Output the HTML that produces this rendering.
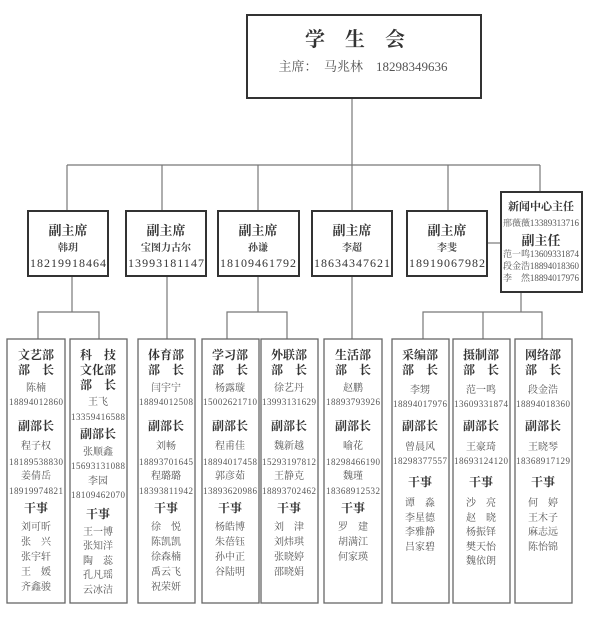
<!DOCTYPE html>
<html><head><meta charset="utf-8"><style>
html,body{margin:0;padding:0;background:#fff}
svg{display:block}
text{font-family:"Liberation Serif","Noto Serif CJK SC",serif;text-anchor:middle;fill:#555}
.b{font-weight:bold;fill:#333;font-size:12px}
.n{font-size:10px}
.p{font-size:9px}
</style></head><body>
<svg width="600" height="629" viewBox="0 0 600 629" xmlns="http://www.w3.org/2000/svg">
<g stroke="#777" stroke-width="1.2" fill="none">
<line x1="352" y1="98" x2="352" y2="165"/>
<line x1="67" y1="165" x2="540" y2="165"/>
<line x1="67" y1="165" x2="67" y2="211"/><line x1="162" y1="165" x2="162" y2="211"/>
<line x1="258" y1="165" x2="258" y2="211"/><line x1="352" y1="165" x2="352" y2="211"/>
<line x1="448" y1="165" x2="448" y2="211"/><line x1="540" y1="165" x2="540" y2="192"/>
<line x1="487" y1="243" x2="501" y2="243"/>
<line x1="72" y1="276" x2="72" y2="312"/><polyline points="38,339 38,312 99,312 99,339"/>
<line x1="167" y1="276" x2="167" y2="339"/>
<line x1="258" y1="276" x2="258" y2="312"/><polyline points="227,339 227,312 287,312 287,339"/>
<line x1="352" y1="276" x2="352" y2="339"/>
<line x1="521" y1="292" x2="521" y2="312"/><polyline points="423,339 423,312 542,312 542,339"/><line x1="483" y1="312" x2="483" y2="339"/>
</g>
<g stroke="#333" stroke-width="2" fill="#fff">
<rect x="247" y="15" width="234" height="83"/>
<rect x="28" y="211" width="80" height="65"/><rect x="126" y="211" width="80" height="65"/>
<rect x="218" y="211" width="81" height="65"/><rect x="312" y="211" width="80" height="65"/>
<rect x="407" y="211" width="80" height="65"/><rect x="501" y="192" width="81" height="100"/>
</g>
<g stroke="#666" stroke-width="1.3" fill="#fff">
<rect x="7" y="339" width="58" height="264"/><rect x="70" y="339" width="57" height="264"/>
<rect x="138" y="339" width="57" height="264"/><rect x="202" y="339" width="57" height="264"/>
<rect x="261" y="339" width="57" height="264"/><rect x="324" y="339" width="58" height="264"/>
<rect x="392" y="339" width="57" height="264"/><rect x="453" y="339" width="57" height="264"/>
<rect x="515" y="339" width="57" height="264"/>
</g>
<text x="355" y="46" class="b" style="font-size:20px">学　生　会</text>
<text x="363" y="71" style="font-size:13px">主席：　马兆林　18298349636</text>

<text x="68" y="235" class="b" style="font-size:13px">副主席</text><text x="68" y="251" class="n" style="font-weight:bold;fill:#444">韩玥</text><text x="68" y="267" style="font-size:12px;fill:#333" textLength="76">18219918464</text>
<text x="166" y="235" class="b" style="font-size:13px">副主席</text><text x="166" y="251" class="n" style="font-weight:bold;fill:#444">宝图力古尔</text><text x="166" y="267" style="font-size:12px;fill:#333" textLength="76">13993181147</text>
<text x="258" y="235" class="b" style="font-size:13px">副主席</text><text x="258" y="251" class="n" style="font-weight:bold;fill:#444">孙谦</text><text x="258" y="267" style="font-size:12px;fill:#333" textLength="76">18109461792</text>
<text x="352" y="235" class="b" style="font-size:13px">副主席</text><text x="352" y="251" class="n" style="font-weight:bold;fill:#444">李超</text><text x="352" y="267" style="font-size:12px;fill:#333" textLength="76">18634347621</text>
<text x="447" y="235" class="b" style="font-size:13px">副主席</text><text x="447" y="251" class="n" style="font-weight:bold;fill:#444">李斐</text><text x="447" y="267" style="font-size:12px;fill:#333" textLength="76">18919067982</text>
<text x="541" y="210" class="b" style="font-size:11px">新闻中心主任</text>
<text x="541" y="226" class="p" textLength="76">邢薇薇13389313716</text>
<text x="541" y="245" class="b" style="font-size:13px">副主任</text>
<text x="541" y="257" class="p" textLength="76">范一鸣13609331874</text>
<text x="541" y="269" class="p" textLength="76">段金浩18894018360</text>
<text x="541" y="281" class="p" textLength="76">李　然18894017976</text>

<g transform="translate(36,0)">
<text y="359" class="b">文艺部</text><text y="374" class="b">部　长</text><text y="391" class="n">陈楠</text><text y="405" class="p" textLength="54">18894012860</text>
<text y="430" class="b">副部长</text><text y="449" class="n">程子权</text><text y="465" class="p" textLength="54">18189538830</text><text y="479" class="n">姜倩岳</text><text y="494" class="p" textLength="54">18919974821</text>
<text y="512" class="b">干事</text><text y="530" class="n">刘可昕</text><text y="545" class="n">张　兴</text><text y="560" class="n">张宇轩</text><text y="575" class="n">王　媛</text><text y="590" class="n">齐鑫骏</text></g>
<g transform="translate(98,0)">
<text y="359" class="b">科　技</text><text y="374" class="b">文化部</text><text y="389" class="b">部　长</text><text y="405" class="n">王飞</text><text y="420" class="p" textLength="54">13359416588</text>
<text y="438" class="b">副部长</text><text y="455" class="n">张顺鑫</text><text y="469" class="p" textLength="54">15693131088</text><text y="484" class="n">李园</text><text y="498" class="p" textLength="54">18109462070</text>
<text y="518" class="b">干事</text><text y="535" class="n">王一博</text><text y="549" class="n">张知洋</text><text y="564" class="n">陶　蕊</text><text y="578" class="n">孔凡瑶</text><text y="593" class="n">云冰洁</text></g>
<g transform="translate(166,0)">
<text y="359" class="b">体育部</text><text y="374" class="b">部　长</text><text y="391" class="n">闫宇宁</text><text y="405" class="p" textLength="54">18894012508</text>
<text y="430" class="b">副部长</text><text y="449" class="n">刘畅</text><text y="465" class="p" textLength="54">18893701645</text><text y="479" class="n">程璐璐</text><text y="494" class="p" textLength="54">18393811942</text>
<text y="512" class="b">干事</text><text y="530" class="n">徐　悦</text><text y="545" class="n">陈凯凯</text><text y="560" class="n">徐森楠</text><text y="575" class="n">禹云飞</text><text y="590" class="n">祝荣妍</text></g>
<g transform="translate(230,0)">
<text y="359" class="b">学习部</text><text y="374" class="b">部　长</text><text y="391" class="n">杨露璇</text><text y="405" class="p" textLength="54">15002621710</text>
<text y="430" class="b">副部长</text><text y="449" class="n">程甫佳</text><text y="465" class="p" textLength="54">18894017458</text><text y="479" class="n">郭彦茹</text><text y="494" class="p" textLength="54">13893620986</text>
<text y="512" class="b">干事</text><text y="530" class="n">杨皓博</text><text y="545" class="n">朱蓓钰</text><text y="560" class="n">孙中正</text><text y="575" class="n">谷陆明</text></g>
<g transform="translate(289,0)">
<text y="359" class="b">外联部</text><text y="374" class="b">部　长</text><text y="391" class="n">徐艺丹</text><text y="405" class="p" textLength="54">13993131629</text>
<text y="430" class="b">副部长</text><text y="449" class="n">魏新越</text><text y="465" class="p" textLength="54">15293197812</text><text y="479" class="n">王静克</text><text y="494" class="p" textLength="54">18893702462</text>
<text y="512" class="b">干事</text><text y="530" class="n">刘　津</text><text y="545" class="n">刘炜琪</text><text y="560" class="n">张晓婷</text><text y="575" class="n">邵晓娟</text></g>
<g transform="translate(353,0)">
<text y="359" class="b">生活部</text><text y="374" class="b">部　长</text><text y="391" class="n">赵鹏</text><text y="405" class="p" textLength="54">18893793926</text>
<text y="430" class="b">副部长</text><text y="449" class="n">喻花</text><text y="465" class="p" textLength="54">18298466190</text><text y="479" class="n">魏瑾</text><text y="494" class="p" textLength="54">18368912532</text>
<text y="512" class="b">干事</text><text y="530" class="n">罗　建</text><text y="545" class="n">胡满江</text><text y="560" class="n">何家瑛</text></g>
<g transform="translate(420,0)">
<text y="359" class="b">采编部</text><text y="374" class="b">部　长</text><text y="393" class="n">李甥</text><text y="407" class="p" textLength="54">18894017976</text>
<text y="430" class="b">副部长</text><text y="450" class="n">曾晨风</text><text y="464" class="p" textLength="54">18298377557</text>
<text y="486" class="b">干事</text><text y="506" class="n">谭　淼</text><text y="521" class="n">李星德</text><text y="535" class="n">李雅静</text><text y="550" class="n">吕家碧</text></g>
<g transform="translate(481,0)">
<text y="359" class="b">摄制部</text><text y="374" class="b">部　长</text><text y="393" class="n">范一鸣</text><text y="407" class="p" textLength="54">13609331874</text>
<text y="430" class="b">副部长</text><text y="450" class="n">王豪琦</text><text y="464" class="p" textLength="54">18693124120</text>
<text y="486" class="b">干事</text><text y="506" class="n">沙　亮</text><text y="521" class="n">赵　晓</text><text y="535" class="n">杨振铎</text><text y="550" class="n">樊天怡</text><text y="564" class="n">魏依朗</text></g>
<g transform="translate(543,0)">
<text y="359" class="b">网络部</text><text y="374" class="b">部　长</text><text y="393" class="n">段金浩</text><text y="407" class="p" textLength="54">18894018360</text>
<text y="430" class="b">副部长</text><text y="450" class="n">王晓琴</text><text y="464" class="p" textLength="54">18368917129</text>
<text y="486" class="b">干事</text><text y="506" class="n">何　婷</text><text y="521" class="n">王木子</text><text y="535" class="n">麻志远</text><text y="550" class="n">陈怡锦</text></g>
</svg>
</body></html>
